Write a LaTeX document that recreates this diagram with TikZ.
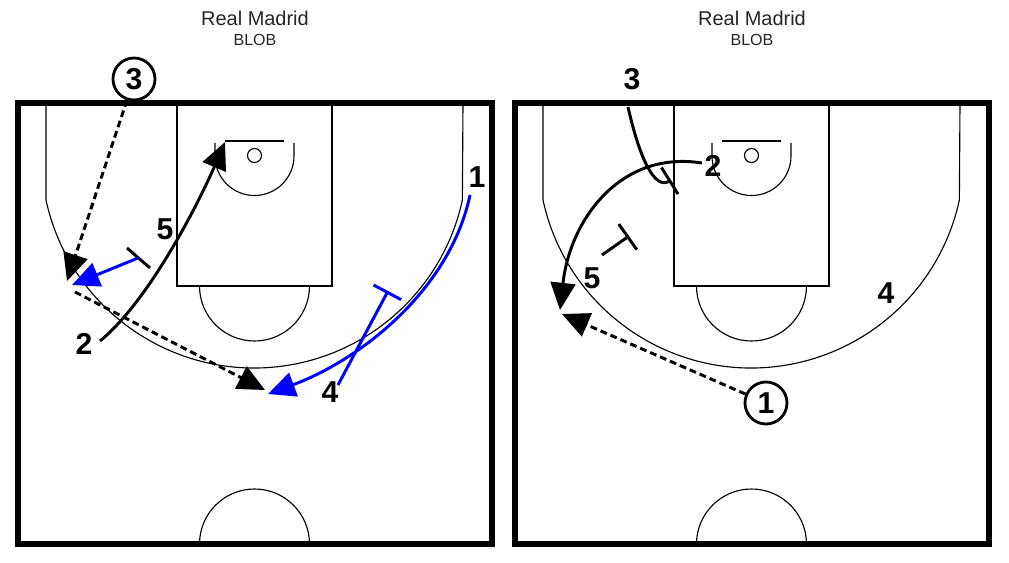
\documentclass[tikz,border=0pt]{standalone}
\usepackage{fontspec}
\setmainfont{Liberation Sans}
\usetikzlibrary{arrows.meta}

\tikzset{
  court/.style={line width=0.8pt},
  courtborder/.style={line width=4pt},
  move/.style={line width=2.1pt, -{Triangle[length=0.68cm,width=0.62cm]}},
  pass/.style={move, dash pattern=on 0.17cm off 0.1cm},
  screen/.style={line width=2.1pt, -{Bar[width=0.78cm]}},
  screenbar/.style={line width=2.1pt},
  player/.style={font=\fontsize{21.5}{21.5}\selectfont\bfseries, inner sep=0pt},
  ballplayer/.style={player, circle, draw, line width=2pt, minimum size=1.05cm},
  title/.style={font=\fontsize{14.2}{14.2}\selectfont, text=black!85},
  subtitle/.style={font=\fontsize{11.4}{11.4}\selectfont, text=black!85},
}

\begin{document}
\begin{tikzpicture}[x=0.025cm, y=-0.025cm]
    \useasboundingbox (0,0) rectangle (1009,562);

    % Draw both half courts with their titles
    \foreach \dx in {0,497} {
      \begin{scope}[shift={(\dx,0)}]
        \node[title] (title\dx) at (255,18) {Real Madrid};
        \node[subtitle] (blob\dx) at (255,40) {BLOB};
        \draw[courtborder] (18,103) rectangle (492,544);
        % three point line
        \draw[court] (46,103) -- (46,200)
          arc[start angle=167.8, end angle=12.2, radius=213] -- (463,103);
        % lane and free throw half circle
        \draw[court] (177,103) rectangle (332,286);
        \draw[court] (199.5,286) arc[start angle=180, end angle=0, radius=55];
        % restricted area, backboard and basket
        \draw[court] (215,143) -- (215,156)
          arc[start angle=180, end angle=0, radius=39.5] -- (294,143);
        \draw[line width=1.3pt] (225,141) -- (284,141);
        \draw[court] (254.5,155.5) circle[radius=7];
        % center circle
        \draw[court] (199.5,544) arc[start angle=180, end angle=360, radius=55];
      \end{scope}
    }

    % Left court: players
    \node[ballplayer] (lthree) at (134,79) {3};
    \node[player] (lfive) at (165,229) {5};
    \node[player] (ltwo) at (84,344) {2};
    \node[player] (lone) at (477,177) {1};
    \node[player] (lfour) at (330,392) {4};

    % Left court: path end points
    \coordinate (lpassend) at (67,281);
    \coordinate (lbarA) at (127,248);
    \coordinate (lbarB) at (150,268);
    \coordinate (lfivefrom) at (138,258);
    \coordinate (lfiveto) at (72,285);
    \coordinate (ltwofrom) at (100,341);
    \coordinate (ltwoto) at (225,142);
    \coordinate (lswingfrom) at (75,292);
    \coordinate (lswingto) at (265,390);
    \coordinate (lonefrom) at (470,195);
    \coordinate (loneto) at (268,394);
    \coordinate (lfourfrom) at (338,385);
    \coordinate (lfourto) at (388,291);

    % inbound pass from 3
    \draw[pass] (lthree) -- (lpassend);
    % 5 screens and pops out
    \draw[screenbar] (lbarA) -- (lbarB);
    \draw[move, blue] (lfivefrom) -- (lfiveto);
    % 2 cuts to the basket
    \draw[move] (ltwofrom) .. controls (150,300) and (200,200) .. (ltwoto);
    % swing pass
    \draw[pass] (lswingfrom) -- (lswingto);
    % 1 curls off the screen of 4
    \draw[move, blue] (lonefrom) .. controls (450,290) and (360,360) .. (loneto);
    \draw[screen, blue] (lfourfrom) -- (lfourto);

    % Right court: players
    \node[player] (rthree) at (632,79) {3};
    \node[player] (rtwo) at (713,166) {2};
    \node[player] (rfive) at (592,278) {5};
    \node[player] (rfour) at (886,293) {4};
    \node[ballplayer] (rone) at (766,403) {1};

    % Right court: path end points
    \coordinate (rthreefrom) at (628,107);
    \coordinate (rthreeto) at (671,180);
    \coordinate (rtwofrom) at (702,163);
    \coordinate (rtwoto) at (560,310);
    \coordinate (rfivefrom) at (602,255);
    \coordinate (rfiveto) at (629,236);
    \coordinate (rpassend) at (562,314);

    % 3 screens for 2
    \draw[screen] (rthreefrom) .. controls (640,160) and (655,190) .. (rthreeto);
    % 2 comes off the screen
    \draw[move] (rtwofrom) .. controls (620,150) and (570,220) .. (rtwoto);
    % 5 screens
    \draw[screen] (rfivefrom) -- (rfiveto);
    % pass from 1
    \draw[pass] (rone) -- (rpassend);

\end{tikzpicture}
\end{document}
